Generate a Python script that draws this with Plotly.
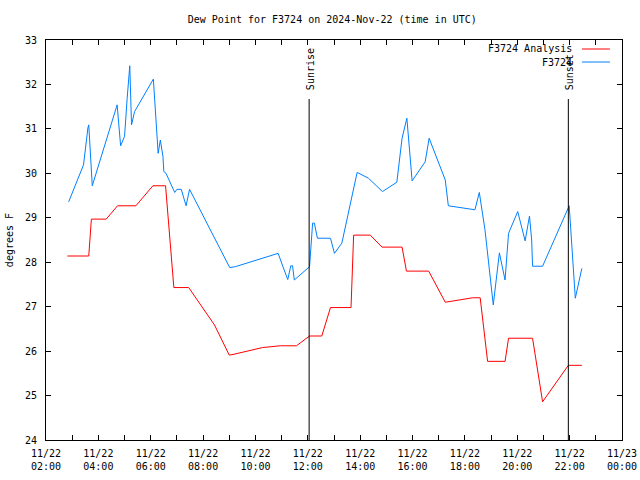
import plotly.graph_objects as go

DAY = "2024-11-22 "

analysis_times = ["02:49", "03:38", "03:44", "04:18", "04:44", "05:26", "06:05", "06:34",
                  "06:53", "07:27", "08:26", "09:00", "09:11", "09:35", "10:16", "10:57",
                  "11:34", "12:04", "12:32", "12:52", "13:39", "13:45", "14:23", "14:50",
                  "15:36", "15:46", "16:37", "17:15", "17:42", "18:18", "18:35", "18:52",
                  "19:32", "19:40", "20:35", "20:58", "21:57", "22:28"]
analysis_vals = [28.14, 28.14, 28.97, 28.97, 29.27, 29.27, 29.72, 29.72,
                 27.43, 27.43, 26.59, 25.91, 25.93, 25.98, 26.08, 26.12,
                 26.12, 26.34, 26.34, 26.98, 26.98, 28.61, 28.61, 28.34,
                 28.34, 27.80, 27.80, 27.10, 27.15, 27.20, 27.20, 25.77,
                 25.77, 26.29, 26.29, 24.86, 25.68, 25.68]

obs_times = ["02:52", "03:26", "03:36", "03:38", "03:46", "04:43", "04:51", "05:00",
             "05:06", "05:12", "05:16", "05:23", "06:06", "06:13", "06:17", "06:22",
             "06:28", "06:30", "06:35", "06:55", "07:00", "07:10", "07:21", "07:29",
             "09:01", "09:14", "10:52", "11:03", "11:14", "11:21", "11:25", "11:29",
             "12:04", "12:11", "12:15", "12:22", "12:52", "13:01", "13:18", "13:53",
             "14:19", "14:51", "15:24", "15:36", "15:47", "15:59", "16:29", "16:38",
             "17:15", "17:22", "18:23", "18:33", "18:46", "19:05", "19:19", "19:32",
             "19:40", "20:01", "20:18", "20:28", "20:33", "20:35", "20:58", "21:59",
             "22:07", "22:13", "22:28"]
obs_vals = [29.36, 30.19, 31.02, 31.09, 29.72, 31.54, 30.62, 30.83,
            31.69, 32.42, 31.09, 31.39, 32.12, 31.20, 30.45, 30.75,
            30.38, 30.04, 30.00, 29.57, 29.64, 29.64, 29.27, 29.64,
            27.88, 27.90, 28.20, 27.90, 27.61, 27.92, 27.92, 27.60,
            27.90, 28.88, 28.88, 28.54, 28.54, 28.20, 28.43, 30.02,
            29.89, 29.59, 29.80, 30.79, 31.24, 29.83, 30.26, 30.79,
            29.85, 29.27, 29.18, 29.57, 28.73, 27.04, 28.21, 27.60,
            28.65, 29.14, 28.48, 29.04, 28.50, 27.91, 27.91, 29.27,
            28.09, 27.19, 27.86]

sun_names = ["Sunrise", "Sunset"]
sun_times = ["2024-11-22 12:03", "2024-11-22 21:57"]

tick_vals = ["2024-11-22 %02d:00" % h for h in range(2, 24)] + ["2024-11-23 00:00"]
tick_text = []
for i, v in enumerate(tick_vals):
    if i % 2 == 0:
        d = v[5:10].replace("-", "/")
        tick_text.append(d + "<br>" + v[11:16])
    else:
        tick_text.append("")

y_ticks = list(range(24, 34))

FONT = "DejaVu Sans Mono"
RED = "#ff0000"
BLUE = "#0080ff"

fig = go.Figure()
fig.add_trace(go.Scatter(x=[DAY + t for t in analysis_times], y=analysis_vals,
                         mode="lines", line=dict(color=RED, width=1),
                         name="F3724 Analysis", showlegend=False))
fig.add_trace(go.Scatter(x=[DAY + t for t in obs_times], y=obs_vals,
                         mode="lines", line=dict(color=BLUE, width=1),
                         name="F3724", showlegend=False))

shapes = []
annotations = []
for name, t in zip(sun_names, sun_times):
    shapes.append(dict(type="line", xref="x", yref="paper", x0=t, x1=t,
                       y0=0, y1=0.8525, line=dict(color="black", width=1)))
    annotations.append(dict(x=t, y=0.87, xref="x", yref="paper", text=name,
                            textangle=-90, showarrow=False, xanchor="center",
                            yanchor="bottom", xshift=1,
                            font=dict(family=FONT, size=10, color="black")))

# legend (gnuplot style: text on the left, sample on the right)
legend_items = [("F3724 Analysis", RED, 0.9775), ("F3724", BLUE, 0.945)]
for label, col, yy in legend_items:
    annotations.append(dict(x=0.9167, y=yy, xref="paper", yref="paper", text=label,
                            showarrow=False, xanchor="right", yanchor="middle",
                            font=dict(family=FONT, size=10, color="black")))
    shapes.append(dict(type="line", xref="paper", yref="paper", x0=0.9306, x1=0.979,
                       y0=yy, y1=yy, line=dict(color=col, width=1)))

annotations.append(dict(x=-0.064, y=0.5, xref="paper", yref="paper", text="degrees F",
                        textangle=-90, showarrow=False, xanchor="center", yanchor="middle",
                        font=dict(family=FONT, size=10, color="black")))

fig.update_layout(
    width=640, height=480,
    margin=dict(l=46, r=18, t=40, b=40),
    paper_bgcolor="white", plot_bgcolor="white",
    title=dict(text="Dew Point for F3724 on 2024-Nov-22 (time in UTC)",
               x=0.497, xref="paper", xanchor="center",
               y=1 - 19 / 480, yref="container", yanchor="middle",
               font=dict(family=FONT, size=10, color="black")),
    font=dict(family=FONT, size=10, color="black"),
    shapes=shapes, annotations=annotations,
    showlegend=False,
)
fig.update_xaxes(range=["2024-11-22 02:00", "2024-11-23 00:00"],
                 tickmode="array", tickvals=tick_vals, ticktext=tick_text,
                 ticks="inside", ticklen=5, tickcolor="black", tickwidth=1,
                 ticklabelstandoff=4, automargin=False,
                 showline=True, linecolor="black", linewidth=1, mirror="ticks",
                 showgrid=False, zeroline=False,
                 tickfont=dict(family=FONT, size=10, color="black"))
fig.update_yaxes(range=[24, 33], tickmode="array", tickvals=y_ticks,
                 ticktext=[str(v) for v in y_ticks],
                 ticks="inside", ticklen=5, tickcolor="black", tickwidth=1,
                 ticklabelstandoff=6, automargin=False,
                 showline=True, linecolor="black", linewidth=1, mirror="ticks",
                 showgrid=False, zeroline=False,
                 tickfont=dict(family=FONT, size=10, color="black"))

fig.write_html("out.html", config={"displayModeBar": False},
               post_script="document.body.style.margin='0';")
